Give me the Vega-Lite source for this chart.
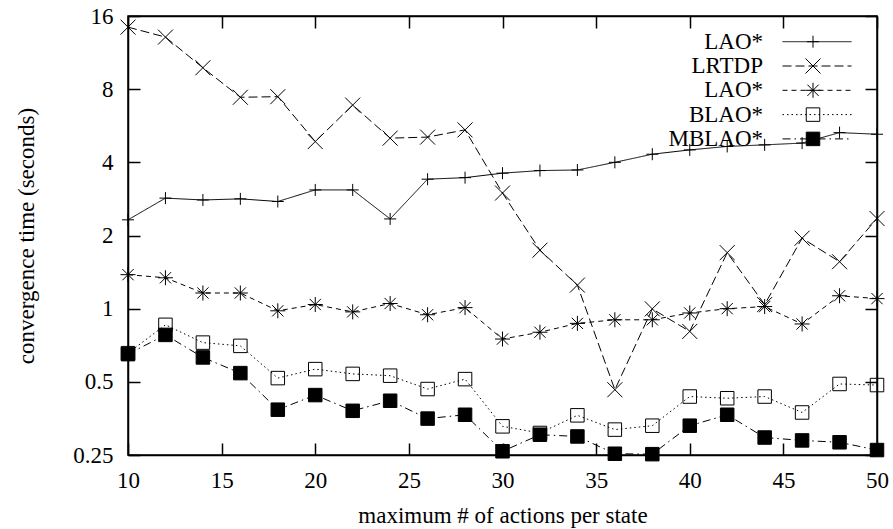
{
  "$schema": "https://vega.github.io/schema/vega-lite/v6.json",
  "width": 749,
  "height": 439,
  "autosize": {"type": "none"},
  "padding": {"left": 128, "top": 16, "right": 16, "bottom": 74},
  "background": "white",
  "config": {
    "font": "Liberation Serif",
    "view": {"stroke": "black", "strokeWidth": 1.5},
    "axis": {
      "grid": false,
      "domainColor": "black",
      "domainWidth": 1.5,
      "tickColor": "black",
      "tickWidth": 1.5,
      "tickSize": -12,
      "labelFont": "Liberation Serif",
      "labelFontSize": 23,
      "labelColor": "black",
      "labelOverlap": false,
      "labelFlush": false,
      "titleFont": "Liberation Serif",
      "titleFontSize": 23,
      "titleFontWeight": "normal",
      "titleColor": "black"
    }
  },
  "data": {
    "values": [
      {"x": 10, "series": "LAO*", "time": 2.32},
      {"x": 12, "series": "LAO*", "time": 2.85},
      {"x": 14, "series": "LAO*", "time": 2.80},
      {"x": 16, "series": "LAO*", "time": 2.83},
      {"x": 18, "series": "LAO*", "time": 2.76},
      {"x": 20, "series": "LAO*", "time": 3.08},
      {"x": 22, "series": "LAO*", "time": 3.08},
      {"x": 24, "series": "LAO*", "time": 2.34},
      {"x": 26, "series": "LAO*", "time": 3.41},
      {"x": 28, "series": "LAO*", "time": 3.46},
      {"x": 30, "series": "LAO*", "time": 3.61},
      {"x": 32, "series": "LAO*", "time": 3.70},
      {"x": 34, "series": "LAO*", "time": 3.72},
      {"x": 36, "series": "LAO*", "time": 4.00},
      {"x": 38, "series": "LAO*", "time": 4.32},
      {"x": 40, "series": "LAO*", "time": 4.50},
      {"x": 42, "series": "LAO*", "time": 4.65},
      {"x": 44, "series": "LAO*", "time": 4.72},
      {"x": 46, "series": "LAO*", "time": 4.80},
      {"x": 48, "series": "LAO*", "time": 5.30},
      {"x": 50, "series": "LAO*", "time": 5.22},
      {"x": 10, "series": "LRTDP", "time": 14.4},
      {"x": 12, "series": "LRTDP", "time": 13.1},
      {"x": 14, "series": "LRTDP", "time": 9.8},
      {"x": 16, "series": "LRTDP", "time": 7.41},
      {"x": 18, "series": "LRTDP", "time": 7.45},
      {"x": 20, "series": "LRTDP", "time": 4.87},
      {"x": 22, "series": "LRTDP", "time": 6.88},
      {"x": 24, "series": "LRTDP", "time": 5.03},
      {"x": 26, "series": "LRTDP", "time": 5.08},
      {"x": 28, "series": "LRTDP", "time": 5.44},
      {"x": 30, "series": "LRTDP", "time": 2.99},
      {"x": 32, "series": "LRTDP", "time": 1.74},
      {"x": 34, "series": "LRTDP", "time": 1.25},
      {"x": 36, "series": "LRTDP", "time": 0.464},
      {"x": 38, "series": "LRTDP", "time": 0.998},
      {"x": 40, "series": "LRTDP", "time": 0.806},
      {"x": 42, "series": "LRTDP", "time": 1.70},
      {"x": 44, "series": "LRTDP", "time": 1.04},
      {"x": 46, "series": "LRTDP", "time": 1.95},
      {"x": 48, "series": "LRTDP", "time": 1.56},
      {"x": 50, "series": "LRTDP", "time": 2.35},
      {"x": 10, "series": "LAO* (2)", "time": 1.38},
      {"x": 12, "series": "LAO* (2)", "time": 1.34},
      {"x": 14, "series": "LAO* (2)", "time": 1.16},
      {"x": 16, "series": "LAO* (2)", "time": 1.16},
      {"x": 18, "series": "LAO* (2)", "time": 0.98},
      {"x": 20, "series": "LAO* (2)", "time": 1.04},
      {"x": 22, "series": "LAO* (2)", "time": 0.97},
      {"x": 24, "series": "LAO* (2)", "time": 1.05},
      {"x": 26, "series": "LAO* (2)", "time": 0.944},
      {"x": 28, "series": "LAO* (2)", "time": 1.01},
      {"x": 30, "series": "LAO* (2)", "time": 0.75},
      {"x": 32, "series": "LAO* (2)", "time": 0.80},
      {"x": 34, "series": "LAO* (2)", "time": 0.87},
      {"x": 36, "series": "LAO* (2)", "time": 0.90},
      {"x": 38, "series": "LAO* (2)", "time": 0.90},
      {"x": 40, "series": "LAO* (2)", "time": 0.96},
      {"x": 42, "series": "LAO* (2)", "time": 1.00},
      {"x": 44, "series": "LAO* (2)", "time": 1.02},
      {"x": 46, "series": "LAO* (2)", "time": 0.865},
      {"x": 48, "series": "LAO* (2)", "time": 1.13},
      {"x": 50, "series": "LAO* (2)", "time": 1.10},
      {"x": 10, "series": "BLAO*", "time": 0.656},
      {"x": 12, "series": "BLAO*", "time": 0.858},
      {"x": 14, "series": "BLAO*", "time": 0.725},
      {"x": 16, "series": "BLAO*", "time": 0.703},
      {"x": 18, "series": "BLAO*", "time": 0.518},
      {"x": 20, "series": "BLAO*", "time": 0.564},
      {"x": 22, "series": "BLAO*", "time": 0.539},
      {"x": 24, "series": "BLAO*", "time": 0.53},
      {"x": 26, "series": "BLAO*", "time": 0.467},
      {"x": 28, "series": "BLAO*", "time": 0.513},
      {"x": 30, "series": "BLAO*", "time": 0.328},
      {"x": 32, "series": "BLAO*", "time": 0.308},
      {"x": 34, "series": "BLAO*", "time": 0.364},
      {"x": 36, "series": "BLAO*", "time": 0.318},
      {"x": 38, "series": "BLAO*", "time": 0.33},
      {"x": 40, "series": "BLAO*", "time": 0.435},
      {"x": 42, "series": "BLAO*", "time": 0.428},
      {"x": 44, "series": "BLAO*", "time": 0.435},
      {"x": 46, "series": "BLAO*", "time": 0.374},
      {"x": 48, "series": "BLAO*", "time": 0.49},
      {"x": 50, "series": "BLAO*", "time": 0.485},
      {"x": 10, "series": "MBLAO*", "time": 0.65},
      {"x": 12, "series": "MBLAO*", "time": 0.78},
      {"x": 14, "series": "MBLAO*", "time": 0.63},
      {"x": 16, "series": "MBLAO*", "time": 0.543},
      {"x": 18, "series": "MBLAO*", "time": 0.384},
      {"x": 20, "series": "MBLAO*", "time": 0.441},
      {"x": 22, "series": "MBLAO*", "time": 0.38},
      {"x": 24, "series": "MBLAO*", "time": 0.418},
      {"x": 26, "series": "MBLAO*", "time": 0.353},
      {"x": 28, "series": "MBLAO*", "time": 0.366},
      {"x": 30, "series": "MBLAO*", "time": 0.259},
      {"x": 32, "series": "MBLAO*", "time": 0.303},
      {"x": 34, "series": "MBLAO*", "time": 0.298},
      {"x": 36, "series": "MBLAO*", "time": 0.253},
      {"x": 38, "series": "MBLAO*", "time": 0.252},
      {"x": 40, "series": "MBLAO*", "time": 0.33},
      {"x": 42, "series": "MBLAO*", "time": 0.366},
      {"x": 44, "series": "MBLAO*", "time": 0.295},
      {"x": 46, "series": "MBLAO*", "time": 0.287},
      {"x": 48, "series": "MBLAO*", "time": 0.282},
      {"x": 50, "series": "MBLAO*", "time": 0.262}
    ]
  },
  "resolve": {"axis": {"x": "independent", "y": "independent"}},
  "layer": [
    {
      "mark": {"type": "line", "color": "black", "strokeWidth": 1},
      "encoding": {
        "x": {
          "field": "x", "type": "quantitative",
          "scale": {"domain": [10, 50], "nice": false, "zero": false},
          "axis": {
            "orient": "bottom",
            "values": [10, 15, 20, 25, 30, 35, 40, 45, 50],
            "labelPadding": 26,
            "title": "maximum # of actions per state",
            "titlePadding": 12
          }
        },
        "y": {
          "field": "time", "type": "quantitative",
          "scale": {"type": "log", "base": 2, "domain": [0.25, 16], "nice": false},
          "axis": {
            "orient": "left",
            "values": [0.25, 0.5, 1, 2, 4, 8, 16],
            "format": "~g",
            "labelPadding": 27,
            "title": "convergence time (seconds)",
            "titlePadding": 34
          }
        },
        "strokeDash": {
          "field": "series", "type": "nominal",
          "sort": ["LAO*", "LRTDP", "LAO* (2)", "BLAO*", "MBLAO*"],
          "scale": {"range": [[1, 0], [9, 4], [5, 4], [1.5, 3], [8, 4, 1.5, 4]]},
          "legend": {
            "orient": "none",
            "legendX": 677.5,
            "legendY": 14.2,
            "title": null,
            "padding": 0,
            "symbolType": "M-4.6,0H4.6",
            "symbolSize": 225,
            "symbolStrokeColor": "black",
            "symbolFillColor": "transparent",
            "symbolStrokeWidth": 1,
            "rowPadding": 0.3,
            "labelFont": "Liberation Serif",
            "labelFontSize": 23,
            "labelColor": "black",
            "labelAlign": "right",
            "labelBaseline": "middle",
            "labelOffset": -65.5,
            "labelLimit": 300,
            "labelExpr": "datum.value === 'LAO* (2)' ? 'LAO*' : datum.label"
          }
        }
      }
    },
    {
      "mark": {"type": "point", "strokeWidth": 1, "size": 225, "opacity": 1},
      "encoding": {
        "x": {
          "field": "x", "type": "quantitative",
          "axis": {
            "orient": "top",
            "values": [10, 15, 20, 25, 30, 35, 40, 45, 50],
            "labels": false,
            "title": null
          }
        },
        "y": {
          "field": "time", "type": "quantitative",
          "axis": {
            "orient": "right",
            "values": [0.25, 0.5, 1, 2, 4, 8, 16],
            "labels": false,
            "title": null
          }
        },
        "shape": {
          "field": "series", "type": "nominal",
          "scale": {
            "domain": ["LAO*", "LRTDP", "LAO* (2)", "BLAO*", "MBLAO*"],
            "range": [
              "M-0.8,0H0.8M0,-0.8V0.8",
              "M-1,-1L1,1M-1,1L1,-1",
              "M-1,0H1M0,-1V1M-0.75,-0.75L0.75,0.75M-0.75,0.75L0.75,-0.75",
              "M-0.9,-0.9H0.9V0.9H-0.9Z",
              "M-0.9,-0.9H0.9V0.9H-0.9Z"
            ]
          },
          "legend": {
            "orient": "none",
            "legendX": 673.5,
            "legendY": 14.2,
            "title": null,
            "padding": 0,
            "symbolSize": 225,
            "symbolStrokeWidth": 1,
            "rowPadding": 0.3,
            "labelFontSize": 23,
            "labelExpr": "' '"
          }
        },
        "fill": {
          "field": "series", "type": "nominal",
          "scale": {
            "domain": ["LAO*", "LRTDP", "LAO* (2)", "BLAO*", "MBLAO*"],
            "range": ["transparent", "transparent", "transparent", "transparent", "black"]
          },
          "legend": {
            "orient": "none",
            "legendX": 673.5,
            "legendY": 14.2,
            "title": null,
            "padding": 0,
            "symbolSize": 225,
            "symbolStrokeWidth": 1,
            "rowPadding": 0.3,
            "labelFontSize": 23,
            "labelExpr": "' '"
          }
        },
        "stroke": {
          "field": "series", "type": "nominal",
          "scale": {
            "domain": ["LAO*", "LRTDP", "LAO* (2)", "BLAO*", "MBLAO*"],
            "range": ["black", "black", "black", "black", "black"]
          },
          "legend": {
            "orient": "none",
            "legendX": 673.5,
            "legendY": 14.2,
            "title": null,
            "padding": 0,
            "symbolSize": 225,
            "symbolStrokeWidth": 1,
            "rowPadding": 0.3,
            "labelFontSize": 23,
            "labelExpr": "' '"
          }
        }
      }
    }
  ]
}
